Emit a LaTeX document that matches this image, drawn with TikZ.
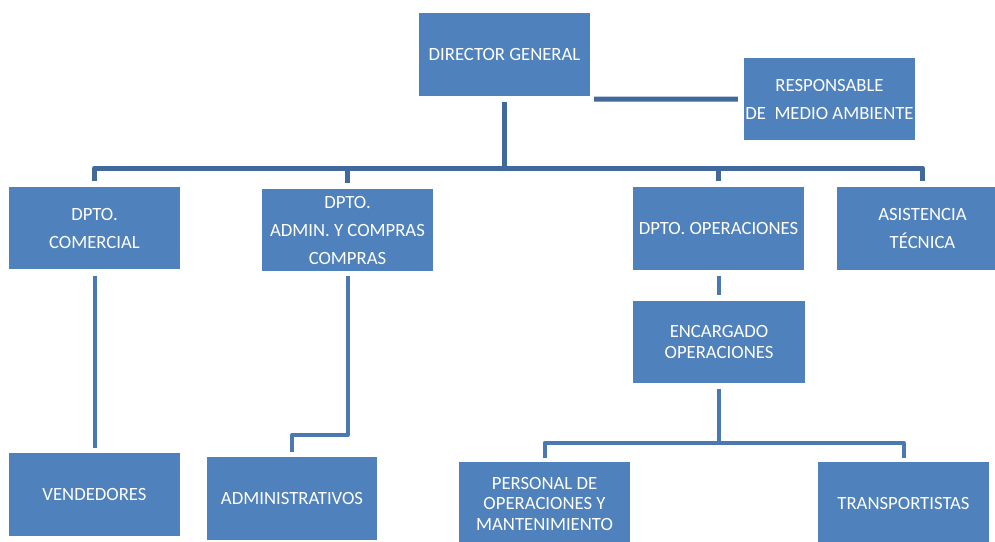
\documentclass[tikz,border=0pt]{standalone}
\usepackage{fontspec}
\setmainfont{Carlito}
\definecolor{boxblue}{HTML}{4F81BD}
\definecolor{busblue}{HTML}{41699C}
\definecolor{linkblue}{HTML}{4A78B2}
\begin{document}
\begin{tikzpicture}[x=1pt,y=-1pt,
  box/.style={fill=boxblue, text=white, minimum width=171pt, minimum height=83pt,
    inner sep=0pt, align=center, font=\fontsize{18.7}{28}\selectfont},
  tightbox/.style={box, font=\fontsize{18.7}{21}\selectfont},
  bus/.style={draw=busblue, line width=5pt, line join=round},
  link/.style={draw=linkblue, line width=4pt, line join=round}]
\fill[white] (0,0) rectangle (995,541);
\clip (0,0) rectangle (995,541);
% nodes
\node[box] (dg)   at (504.5,54.5) {DIRECTOR GENERAL};
\node[box, minimum height=82pt] (resp) at (829.5,99) {RESPONSABLE\\DE\ \ MEDIO AMBIENTE};
\node[box, minimum height=82pt] (com)  at (94.5,228) {DPTO.\\COMERCIAL};
\node[box, minimum height=82pt] (adm)  at (347.5,230) {DPTO.\\ADMIN. Y COMPRAS\\COMPRAS};
\node[box] (ops)  at (718.5,228.5) {DPTO. OPERACIONES};
\node[box] (asi)  at (922.5,228.5) {ASISTENCIA\\TÉCNICA};
\node[tightbox, minimum height=82pt, minimum width=172pt] (enc) at (719,342) {ENCARGADO\\OPERACIONES};
\node[box] (ven)  at (94.5,494.5) {VENDEDORES};
\node[box, minimum width=170pt] (admv) at (292,498.5) {ADMINISTRATIVOS};
\node[box, font=\fontsize{18.7}{20.5}\selectfont] (per) at (544.5,503.5) {PERSONAL DE\\OPERACIONES Y\\MANTENIMIENTO};
\node[box] (tra)  at (903.5,503.5) {TRANSPORTISTAS};
% top connectors
\coordinate (busy) at (0,168);
\coordinate (respy) at (0,99);
\draw[bus] ([xshift=4pt,yshift=-3pt]dg.south east) -- ([xshift=-6pt]resp.west |- respy);
\draw[bus] ([yshift=-6pt]dg.south) -- (dg.south |- busy);
\draw[bus] ([yshift=6pt]com.north) |- (asi.north |- busy) -- ([yshift=6pt]asi.north);
\draw[bus] ([yshift=6pt]adm.north) -- (adm.north |- busy);
\draw[bus] ([yshift=6pt]ops.north) -- (ops.north |- busy);
% lower connectors
\coordinate (admy) at (0,435);
\coordinate (ey) at (0,443);
\draw[link] ([yshift=-7pt]com.south) -- ([yshift=5pt]ven.north);
\draw[link] ([yshift=-5pt]adm.south) -- (adm.south |- admy) -| ([yshift=5pt]admv.north);
\draw[link] ([yshift=-6pt]ops.south) -- ([yshift=6pt]ops.south |- enc.north);
\draw[link] ([yshift=-6pt]ops.south |- enc.south) -- (ops.south |- ey);
\draw[link] ([yshift=4pt]per.north) |- (tra.north |- ey) -- ([yshift=4pt]tra.north);
\end{tikzpicture}
\end{document}
